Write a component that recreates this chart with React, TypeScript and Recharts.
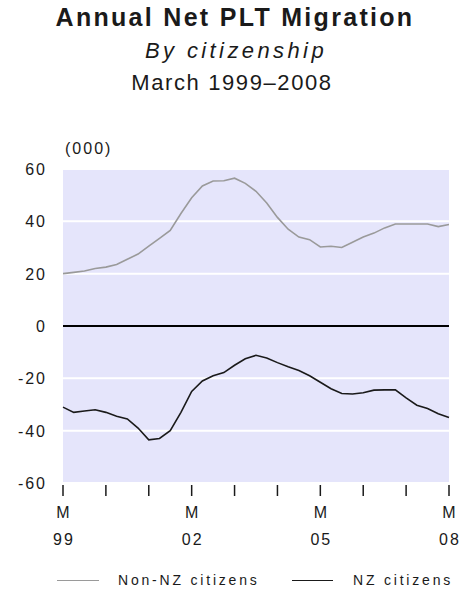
import { LineChart, Line, XAxis, YAxis, CartesianGrid, ReferenceLine } from 'recharts';

// month offsets from March 1999, sampled quarterly
const MONTHS = [0, 3, 6, 9, 12, 15, 18, 21, 24, 27, 30, 33, 36, 39, 42, 45, 48, 51, 54, 57, 60, 63, 66, 69, 72, 75, 78, 81, 84, 87, 90, 93, 96, 99, 102, 105, 108];

// (000)
const NON_NZ = [20, 20.5, 21, 22, 22.5, 23.5, 25.5, 27.5, 30.5, 33.5, 36.5, 43, 49, 53.5, 55.4, 55.5, 56.5, 54.5, 51.5, 47, 41.5, 37, 34, 33, 30.2, 30.5, 30, 32, 34, 35.5, 37.5, 39, 39, 39, 39, 38, 38.8];
const NZ = [-31, -33, -32.5, -32, -33, -34.5, -35.5, -39, -43.5, -43, -40, -33, -25, -21, -19, -17.8, -15, -12.5, -11.2, -12.2, -14, -15.6, -17, -19, -21.5, -24, -25.8, -26, -25.5, -24.5, -24.4, -24.4, -27.5, -30.3, -31.5, -33.5, -35];

const Y_TICKS = [-60, -40, -20, 0, 20, 40, 60];
const X_TICKS = [0, 12, 24, 36, 48, 60, 72, 84, 96, 108];
const LABEL_MONTHS = [0, 36, 72, 108];
const LABEL_YEARS = ['99', '02', '05', '08'];

const FONT = '"Liberation Sans", Arial, sans-serif';
const INK = '#1a1a1a';
const GREY = '#9a9a9a';

const data = MONTHS.map((m, i) => ({ m, nonNz: NON_NZ[i], nz: NZ[i] }));

function XTick({ x, y, payload }: any) {
  const idx = LABEL_MONTHS.indexOf(payload.value);
  return (
    <g>
      <line x1={x} x2={x} y1={y + 2} y2={y + 13} stroke={INK} strokeWidth={1.5} />
      {idx >= 0 && (
        <g fontFamily={FONT} fontSize={16} fill={INK} letterSpacing={2} textAnchor="middle">
          <text x={x + 1} y={y + 35}>M</text>
          <text x={x + 1} y={y + 62}>{LABEL_YEARS[idx]}</text>
        </g>
      )}
    </g>
  );
}

function YTick({ y, payload }: any) {
  return (
    <text x={47} y={y + 6} textAnchor="end" fontFamily={FONT} fontSize={16} letterSpacing={2} fill={INK}>
      {payload.value}
    </text>
  );
}

export default function App() {
  return (
    <div style={{ position: 'absolute', left: 0, top: 0, width: 460, height: 596, background: '#fff', fontFamily: FONT, color: INK }}>
      <div style={{ position: 'absolute', left: 0, width: 470, top: 5, textAlign: 'center', fontSize: 25, lineHeight: 1, fontWeight: 'bold', letterSpacing: 2.3 }}>
        Annual Net PLT Migration
      </div>
      <div style={{ position: 'absolute', left: 0, width: 472, top: 40, textAlign: 'center', fontSize: 22, lineHeight: 1, fontStyle: 'italic', letterSpacing: 3.4 }}>
        By citizenship
      </div>
      <div style={{ position: 'absolute', left: 0, width: 464, top: 72, textAlign: 'center', fontSize: 22, lineHeight: 1, letterSpacing: 1.6 }}>
        March 1999–2008
      </div>

      <div style={{ position: 'absolute', left: 0, top: 0 }}>
        <LineChart width={460} height={596} data={data} margin={{ top: 169, right: 11, bottom: 0, left: 0 }}>
          <CartesianGrid horizontal vertical={false} stroke="#ffffff" strokeWidth={2} fill="#e5e5fb" />
          <XAxis
            dataKey="m"
            type="number"
            domain={[0, 108]}
            ticks={X_TICKS}
            interval={0}
            height={113}
            axisLine={false}
            tickLine={false}
            tickSize={0}
            tickMargin={0}
            tick={<XTick />}
          />
          <YAxis
            type="number"
            domain={[-60, 60]}
            ticks={Y_TICKS}
            interval={0}
            width={63}
            axisLine={false}
            tickLine={false}
            tick={<YTick />}
          />
          <ReferenceLine y={0} stroke="#000" strokeWidth={2} />
          <Line type="linear" dataKey="nonNz" name="Non-NZ citizens" stroke={GREY} strokeWidth={1.6} dot={false} isAnimationActive={false} />
          <Line type="linear" dataKey="nz" name="NZ citizens" stroke={INK} strokeWidth={1.6} dot={false} isAnimationActive={false} />
          <text x={65} y={154} fontFamily={FONT} fontSize={16} letterSpacing={2} fill={INK}>(000)</text>
        </LineChart>
      </div>

      <div style={{ position: 'absolute', left: 0, top: 571, width: 460, height: 20, fontSize: 14, letterSpacing: 2.8 }}>
        <div style={{ position: 'absolute', left: 57, top: 9, width: 42, height: 0, borderTop: `1.5px solid ${GREY}` }} />
        <span style={{ position: 'absolute', left: 118, top: 1, whiteSpace: 'nowrap' }}>Non-NZ citizens</span>
        <div style={{ position: 'absolute', left: 292, top: 9, width: 41, height: 0, borderTop: `1.5px solid ${INK}` }} />
        <span style={{ position: 'absolute', left: 353, top: 1, whiteSpace: 'nowrap' }}>NZ citizens</span>
      </div>
    </div>
  );
}
